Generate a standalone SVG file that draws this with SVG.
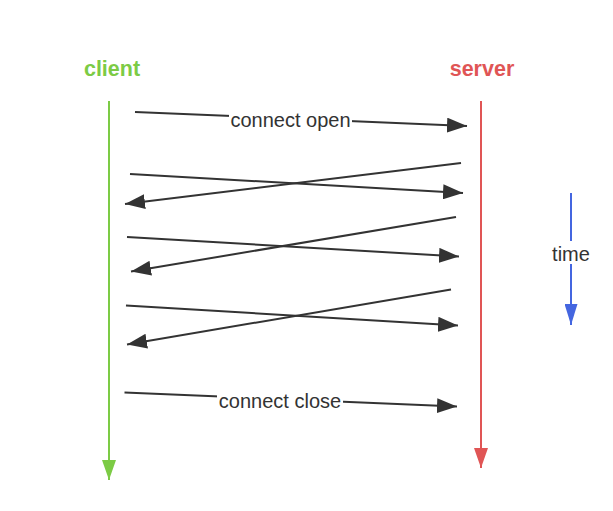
<svg xmlns="http://www.w3.org/2000/svg" width="613" height="511" viewBox="0 0 613 511">
<style>
.msg{stroke:#333;stroke-width:2;fill:none;marker-end:url(#ah)}
.lbl{font-family:"Liberation Sans",Arial,sans-serif;font-size:20px;fill:#333;text-anchor:middle}
.ttl{font-family:"Liberation Sans",Arial,sans-serif;font-size:21.5px;font-weight:bold;text-anchor:middle}
</style>
<defs>
<marker id="ah" markerUnits="userSpaceOnUse" viewBox="0 0 20 15" refX="20" refY="7.5" markerWidth="20" markerHeight="15" orient="auto"><path d="M0,0 L20,7.5 L0,15 z" fill="#333"/></marker>
<marker id="ahg" markerUnits="userSpaceOnUse" viewBox="0 0 20 14" refX="20" refY="7" markerWidth="20" markerHeight="14" orient="auto"><path d="M0,0 L20,7 L0,14 z" fill="#7ccb45"/></marker>
<marker id="ahr" markerUnits="userSpaceOnUse" viewBox="0 0 20 14" refX="20" refY="7" markerWidth="20" markerHeight="14" orient="auto"><path d="M0,0 L20,7 L0,14 z" fill="#e05555"/></marker>
<marker id="ahb" markerUnits="userSpaceOnUse" viewBox="0 0 21 13" refX="21" refY="6.5" markerWidth="21" markerHeight="13" orient="auto"><path d="M0,0 L21,6.5 L0,13 z" fill="#4466e0"/></marker>
</defs>
<rect width="613" height="511" fill="#fff"/>
<g id="client">
<text class="ttl" x="112" y="76" fill="#7ccb45">client</text>
<line x1="109" y1="101" x2="109" y2="480" stroke="#7ccb45" stroke-width="2" marker-end="url(#ahg)"/>
</g>
<g id="server">
<text class="ttl" x="482" y="76" fill="#e05555">server</text>
<line x1="481" y1="101" x2="481" y2="468" stroke="#e05555" stroke-width="2" marker-end="url(#ahr)"/>
</g>
<g id="time">
<line x1="571" y1="193" x2="571" y2="241" stroke="#4466e0" stroke-width="2"/>
<line x1="571" y1="264" x2="571" y2="325" stroke="#4466e0" stroke-width="2" marker-end="url(#ahb)"/>
<text class="lbl" x="571" y="261">time</text>
</g>
<g id="connectors">
<line class="msg" x1="135" y1="112" x2="467" y2="126"/>
<line class="msg" x1="130" y1="174" x2="463" y2="193"/>
<line class="msg" x1="461" y1="163" x2="125" y2="204"/>
<line class="msg" x1="127" y1="237" x2="459" y2="256.5"/>
<line class="msg" x1="456" y1="217" x2="131" y2="271.5"/>
<line class="msg" x1="126" y1="305.5" x2="458" y2="325.5"/>
<line class="msg" x1="451" y1="289.5" x2="127" y2="344.5"/>
<line class="msg" x1="124.5" y1="392.5" x2="457" y2="406.5"/>
<rect x="229" y="110" width="123" height="20" fill="#fff"/>
<text class="lbl" x="290.5" y="127">connect open</text>
<rect x="217" y="392" width="126" height="20" fill="#fff"/>
<text class="lbl" x="280" y="408">connect close</text>
</g>
</svg>
